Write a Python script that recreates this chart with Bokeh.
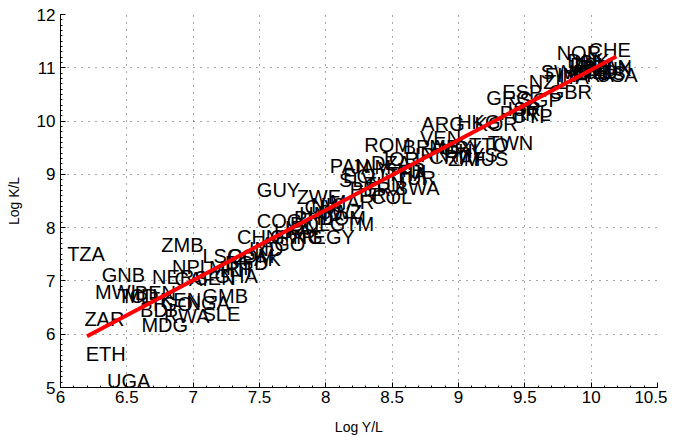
from bokeh.plotting import figure
from bokeh.models import ColumnDataSource, Range1d, FixedTicker
from bokeh.core.properties import value
from bokeh.embed import file_html
from bokeh.resources import INLINE

countries = ["TZA", "ZMB", "GNB", "MWI", "ZAR", "ETH", "UGA", "MDG", "NER", "NPL",
             "MLI", "BEN", "BDI", "RWA", "TGO", "KEN", "NGA", "GMB", "SLE", "TCD",
             "CAF", "SEN", "GHA", "LSO", "COM", "PAK", "HTI", "BGD", "MRT", "IND",
             "CHN", "AGO", "CMR", "COG", "GUY", "ZWE", "LKA", "IDN", "PHL", "BOL",
             "HND", "CIV", "NIC", "SWZ", "PNG", "EGY", "GTM", "DOM", "MAR", "SLV",
             "ECU", "PAN", "JAM", "PER", "PRY", "TUN", "COL", "DZA", "ROM", "SYR",
             "JOR", "TUR", "BWA", "FJI", "THA", "BRA", "VEN", "ARG", "MEX", "IRN",
             "URY", "CRI", "CHL", "ZAF", "MYS", "MUS", "TTO", "TWN", "HKG", "KOR",
             "GRC", "PRT", "ISR", "CYP", "IRL", "ESP", "SGP", "NZL", "GBR", "ITA",
             "FIN", "SWE", "NOR", "CHE", "JPN", "AUT", "FRA", "DEU", "BEL", "NLD",
             "DNK", "AUS", "CAN", "ISL", "LUX", "USA"]
log_yl = [6.05, 6.76, 6.31, 6.26, 6.18, 6.19, 6.35, 6.61, 6.69, 6.84,
          6.48, 6.56, 6.60, 6.78, 6.67, 6.75, 6.95, 7.07, 7.07, 6.43,
          6.86, 7.01, 7.16, 7.07, 7.26, 7.37, 7.20, 7.24, 7.12, 7.42,
          7.33, 7.51, 7.58, 7.48, 7.48, 7.78, 7.61, 7.69, 7.76, 7.73,
          7.80, 7.84, 7.89, 7.94, 7.65, 7.90, 8.03, 7.95, 8.03, 8.10,
          8.13, 8.03, 8.19, 8.18, 8.25, 8.29, 8.34, 8.34, 8.29, 8.44,
          8.40, 8.52, 8.52, 8.55, 8.46, 8.58, 8.71, 8.72, 8.78, 8.67,
          8.86, 8.78, 8.89, 8.92, 8.97, 9.04, 9.08, 9.22, 8.99, 9.12,
          9.21, 9.31, 9.37, 9.40, 9.46, 9.33, 9.46, 9.53, 9.68, 9.76,
          9.65, 9.62, 9.74, 9.98, 9.80, 9.84, 9.87, 9.84, 9.91, 9.90,
          9.82, 9.95, 9.99, 9.87, 10.01, 10.04]
log_kl = [7.50, 7.68, 7.12, 6.80, 6.28, 5.62, 5.12, 6.18, 7.08, 7.27,
          6.71, 6.78, 6.45, 6.35, 6.56, 6.65, 6.58, 6.71, 6.37, 6.71,
          7.03, 7.06, 7.10, 7.46, 7.46, 7.42, 7.21, 7.33, 7.25, 7.59,
          7.83, 7.70, 7.83, 8.13, 8.70, 8.58, 7.93, 8.00, 8.19, 8.06,
          8.25, 8.38, 8.43, 8.30, 7.82, 7.82, 8.06, 8.19, 8.49, 8.90,
          8.96, 9.15, 9.13, 8.72, 8.62, 8.81, 8.57, 9.22, 9.56, 9.09,
          9.28, 8.94, 8.75, 9.05, 9.00, 9.52, 9.69, 9.95, 9.52, 9.37,
          9.50, 9.32, 9.43, 9.28, 9.37, 9.28, 9.56, 9.58, 9.99, 9.94,
          10.44, 10.16, 10.22, 10.10, 10.14, 10.54, 10.40, 10.74, 10.54, 10.82,
          10.87, 10.93, 11.27, 11.34, 11.01, 10.93, 10.87, 11.06, 11.01, 10.93,
          11.12, 10.91, 11.01, 11.10, 10.97, 10.86]

fit_x = [6.20, 10.19]
fit_y = [5.96, 11.21]

x_ticks = [6, 6.5, 7, 7.5, 8, 8.5, 9, 9.5, 10, 10.5]
y_ticks = [5, 6, 7, 8, 9, 10, 11, 12]

FONT = "Liberation Sans"

p = figure(output_backend="svg", toolbar_location=None,
           frame_width=597, frame_height=373,
           min_border_left=60, min_border_right=10, min_border_top=14, min_border_bottom=41,
           x_range=Range1d(6, 10.5), y_range=Range1d(5, 12),
           background_fill_color="white", border_fill_color="white")
p.outline_line_color = None

src = ColumnDataSource(dict(x=log_yl, y=log_kl, t=countries))
p.text(x="x", y="y", text="t", source=src, text_font=value(FONT),
       text_font_size="20px", text_align="left", text_baseline="middle",
       text_color="black")
p.line(fit_x, fit_y, line_color="red", line_width=4)

for ax, ticks in ((p.xaxis, x_ticks), (p.yaxis, y_ticks)):
    ax.ticker = FixedTicker(ticks=ticks,
                            minor_ticks=[t / 10 for t in range(50, 121)])
    ax.major_tick_in = 5
    ax.major_tick_out = 0
    ax.minor_tick_in = 2
    ax.minor_tick_out = 0
    ax.axis_line_color = "black"
    ax.major_tick_line_color = "black"
    ax.minor_tick_line_color = "black"
    ax.major_label_text_font = FONT
    ax.major_label_text_font_size = "17px"
    ax.major_label_text_color = "black"
    ax.axis_label_text_font = FONT
    ax.axis_label_text_font_size = "14px"
    ax.axis_label_text_font_style = "normal"
    ax.axis_label_text_color = "black"

p.xaxis.axis_label = "Log Y/L"
p.yaxis.axis_label = "Log K/L"
p.xaxis.major_label_standoff = 3
p.xaxis.axis_label_standoff = 13
p.yaxis.major_label_standoff = 5
p.yaxis.axis_label_standoff = 12
p.xaxis.major_label_overrides = {6: "6", 7: "7", 8: "8", 9: "9", 10: "10"}
p.yaxis.major_label_orientation = "horizontal"

for g in (p.xgrid, p.ygrid):
    g.grid_line_color = "black"
    g.grid_line_alpha = 0.7
    g.grid_line_dash = "1 6"
    g.grid_line_width = 1
p.xgrid.ticker = FixedTicker(ticks=x_ticks)
p.ygrid.ticker = FixedTicker(ticks=y_ticks)

open("out.html", "w").write(file_html(p, INLINE))
